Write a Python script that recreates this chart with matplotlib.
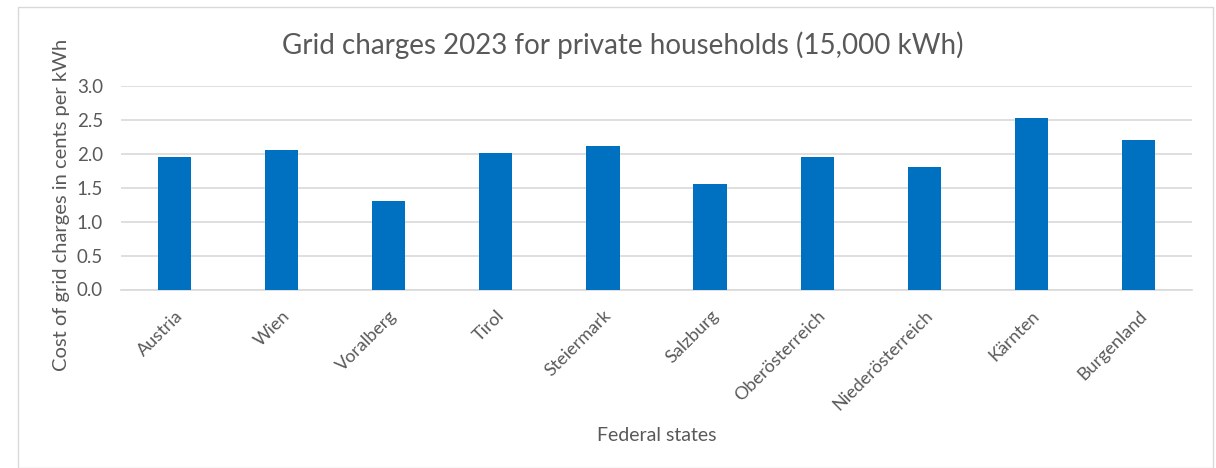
import matplotlib.pyplot as plt
import matplotlib.transforms as mtransforms
import numpy as np
from matplotlib.patches import Rectangle

states = ["Austria", "Wien", "Voralberg", "Tirol", "Steiermark", "Salzburg",
          "Oberösterreich", "Niederösterreich", "Kärnten", "Burgenland"]
charges = [1.95, 2.05, 1.30, 2.01, 2.12, 1.55, 1.95, 1.80, 2.53, 2.21]
y_ticks = [0.0, 0.5, 1.0, 1.5, 2.0, 2.5, 3.0]

TEXT = "#595959"
BAR = "#0070C0"
GRID = "#D9D9D9"

plt.rcParams["font.family"] = ["Lato", "DejaVu Sans"]

W, H = 1216, 468
fig = plt.figure(figsize=(W / 100, H / 100), dpi=100)

# chart border
fig.patches.append(Rectangle((18 / W, 0), (1213 - 18) / W, (H - 7) / H,
                             transform=fig.transFigure, fill=False,
                             edgecolor="#D9D9D9", linewidth=1))

ax_left, ax_right, ax_top, ax_bottom = 121, 1192, 86, 289.5
ax = fig.add_axes([ax_left / W, 1 - ax_bottom / H,
                   (ax_right - ax_left) / W, (ax_bottom - ax_top) / H])

x = np.arange(len(states))
ax.bar(x, charges, width=0.31, color=BAR, zorder=3)

ax.set_xlim(-0.5, len(states) - 0.5)
ax.set_ylim(0, 3.0)
ax.set_yticks(y_ticks)
ax.set_yticklabels([f"{v:.1f}" for v in y_ticks])
ax.set_xticks(x)
ax.set_xticklabels(states, rotation=45, ha="right", rotation_mode="anchor")

shift = mtransforms.ScaledTranslation(6 / 100, 0, fig.dpi_scale_trans)
for lbl in ax.get_xticklabels():
    lbl.set_transform(lbl.get_transform() + shift)

ax.grid(axis="y", color=GRID, linewidth=1.2, zorder=0)
for side in ["top", "right", "left"]:
    ax.spines[side].set_visible(False)
ax.spines["bottom"].set_color(GRID)
ax.spines["bottom"].set_linewidth(1.2)
ax.tick_params(length=0, colors=TEXT)
ax.tick_params(axis="y", labelsize=13.5, pad=13)
ax.tick_params(axis="x", labelsize=13, pad=13)

ax.set_ylabel("Cost of grid charges in cents per kWh", fontsize=14.5, color=TEXT, va="center")
ax.yaxis.set_label_coords((62 - ax_left) / (ax_right - ax_left),
                          (ax_bottom - 205) / (ax_bottom - ax_top))
ax.set_xlabel("Federal states", fontsize=14, color=TEXT, labelpad=10)
fig.text(623 / W, 1 - 45 / H,
         "Grid charges 2023 for private households (15,000 kWh)",
         ha="center", va="center", fontsize=20, color=TEXT)

fig.savefig("out.png", dpi=100)
